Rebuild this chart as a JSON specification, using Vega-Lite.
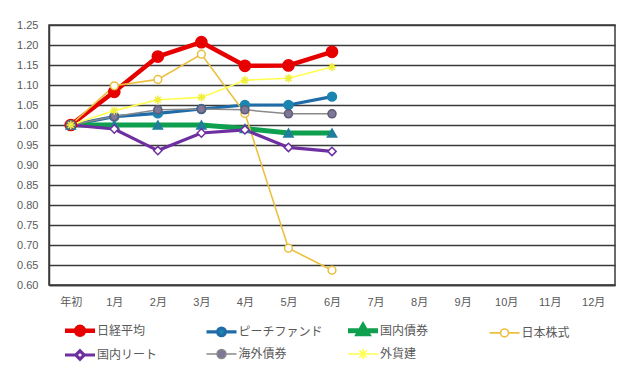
{
  "$schema": "https://vega.github.io/schema/vega-lite/v6.json",
  "width": 566,
  "height": 260,
  "autosize": {"type": "none"},
  "padding": {"left": 49, "top": 25, "right": 25, "bottom": 100},
  "background": "white",
  "config": {
    "view": {"stroke": "#3a3a3a", "strokeWidth": 1.5},
    "font": "Liberation Sans, Noto Sans CJK JP"
  },
  "data": {
    "values": [
      {"m": "年初", "s": "日経平均", "v": 1.0},
      {"m": "1月", "s": "日経平均", "v": 1.083},
      {"m": "2月", "s": "日経平均", "v": 1.171},
      {"m": "3月", "s": "日経平均", "v": 1.207},
      {"m": "4月", "s": "日経平均", "v": 1.148},
      {"m": "5月", "s": "日経平均", "v": 1.149},
      {"m": "6月", "s": "日経平均", "v": 1.183},
      {"m": "年初", "s": "ピーチファンド", "v": 1.0},
      {"m": "1月", "s": "ピーチファンド", "v": 1.021},
      {"m": "2月", "s": "ピーチファンド", "v": 1.029},
      {"m": "3月", "s": "ピーチファンド", "v": 1.04},
      {"m": "4月", "s": "ピーチファンド", "v": 1.05},
      {"m": "5月", "s": "ピーチファンド", "v": 1.05},
      {"m": "6月", "s": "ピーチファンド", "v": 1.071},
      {"m": "年初", "s": "国内債券", "v": 1.0},
      {"m": "1月", "s": "国内債券", "v": 1.0},
      {"m": "2月", "s": "国内債券", "v": 1.0},
      {"m": "3月", "s": "国内債券", "v": 1.0},
      {"m": "4月", "s": "国内債券", "v": 0.991},
      {"m": "5月", "s": "国内債券", "v": 0.98},
      {"m": "6月", "s": "国内債券", "v": 0.98},
      {"m": "年初", "s": "日本株式", "v": 1.0},
      {"m": "1月", "s": "日本株式", "v": 1.098},
      {"m": "2月", "s": "日本株式", "v": 1.114},
      {"m": "3月", "s": "日本株式", "v": 1.177},
      {"m": "4月", "s": "日本株式", "v": 1.029},
      {"m": "5月", "s": "日本株式", "v": 0.692},
      {"m": "6月", "s": "日本株式", "v": 0.637},
      {"m": "年初", "s": "国内リート", "v": 1.0},
      {"m": "1月", "s": "国内リート", "v": 0.99},
      {"m": "2月", "s": "国内リート", "v": 0.936},
      {"m": "3月", "s": "国内リート", "v": 0.98},
      {"m": "4月", "s": "国内リート", "v": 0.988},
      {"m": "5月", "s": "国内リート", "v": 0.944},
      {"m": "6月", "s": "国内リート", "v": 0.934},
      {"m": "年初", "s": "海外債券", "v": 1.0},
      {"m": "1月", "s": "海外債券", "v": 1.021},
      {"m": "2月", "s": "海外債券", "v": 1.038},
      {"m": "3月", "s": "海外債券", "v": 1.04},
      {"m": "4月", "s": "海外債券", "v": 1.038},
      {"m": "5月", "s": "海外債券", "v": 1.028},
      {"m": "6月", "s": "海外債券", "v": 1.028},
      {"m": "年初", "s": "外貨建", "v": 1.0},
      {"m": "1月", "s": "外貨建", "v": 1.036},
      {"m": "2月", "s": "外貨建", "v": 1.063},
      {"m": "3月", "s": "外貨建", "v": 1.069},
      {"m": "4月", "s": "外貨建", "v": 1.112},
      {"m": "5月", "s": "外貨建", "v": 1.117},
      {"m": "6月", "s": "外貨建", "v": 1.145}
    ]
  },
  "encoding": {
    "x": {
      "field": "m", "type": "ordinal",
      "scale": {"type": "point", "padding": 0.5, "domain": ["年初", "1月", "2月", "3月", "4月", "5月", "6月", "7月", "8月", "9月", "10月", "11月", "12月"]},
      "axis": {"title": null, "labelAngle": 0, "ticks": false, "tickSize": 0, "labelPadding": 11, "labelFontSize": 11, "labelColor": "#595959", "domainColor": "#3a3a3a", "domainWidth": 1.5, "grid": false}
    },
    "y": {
      "field": "v", "type": "quantitative",
      "scale": {"domain": [0.6, 1.25], "nice": false, "zero": false},
      "axis": {"title": null, "values": [0.6, 0.65, 0.7, 0.75, 0.8, 0.85, 0.9, 0.95, 1.0, 1.05, 1.1, 1.15, 1.2, 1.25], "format": ".2f", "ticks": false, "tickSize": 0, "labelPadding": 11, "labelFontSize": 11, "labelColor": "#595959", "grid": true, "gridColor": "#3a3a3a", "gridWidth": 1.5, "domainColor": "#3a3a3a", "domainWidth": 1.5}
    }
  },
  "layer": [
    {
      "mark": {"type": "line", "interpolate": "linear"},
      "encoding": {
        "color": {
          "field": "s", "type": "nominal",
          "scale": {"domain": ["日経平均", "ピーチファンド", "国内債券", "日本株式", "国内リート", "海外債券", "外貨建"], "range": ["#E60000", "#1F6CA8", "#0EA04E", "#EBC03F", "#6E2FA0", "#8A8A8A", "#FFFF4D"]},
          "legend": {
            "title": null,
            "orient": "none",
            "legendX": 19.5,
            "legendY": 294,
            "direction": "horizontal",
            "columns": 4,
            "padding": 0,
            "gridAlign": "all",
            "columnPadding": 14.5,
            "rowPadding": 0,
            "symbolSize": 324,
            "symbolOffset": 0,
            "labelOffset": 5.5,
            "labelFontSize": 12,
            "labelFont": "Noto Sans CJK JP",
            "labelColor": "#595959",
            "encode": {
              "symbols": {
                "update": {
                  "shape": {"signal": "datum.value==='日経平均' ? 'M-1.667,0H1.667M0.44,0A0.44,0.44 0 1,1 -0.44,0A0.44,0.44 0 1,1 0.44,0Z' : datum.value==='ピーチファンド' ? 'M-1.667,0H-0.43M0.43,0H1.667M0.43,0A0.43,0.43 0 1,1 -0.43,0A0.43,0.43 0 1,1 0.43,0Z' : datum.value==='国内債券' ? 'M-1.667,0H-0.5M0.5,0H1.667M0,-0.53L0.5,0.33L-0.5,0.33Z' : datum.value==='日本株式' ? 'M-1.667,0H-0.44M0.44,0H1.667M0.44,0A0.44,0.44 0 1,1 -0.44,0A0.44,0.44 0 1,1 0.44,0Z' : datum.value==='国内リート' ? 'M-1.667,0H-0.47M0.47,0H1.667M0,-0.47L0.47,0L0,0.47L-0.47,0Z' : datum.value==='海外債券' ? 'M-1.667,0H-0.5M0.5,0H1.667M0.5,0A0.5,0.5 0 1,1 -0.5,0A0.5,0.5 0 1,1 0.5,0Z' : 'M-1.667,0H1.667M-0.42,-0.42L0.42,0.42M-0.42,0.42L0.42,-0.42M0,-0.55V0.55'"},
                  "fill": {"signal": "datum.value==='日経平均' ? '#E60000' : datum.value==='ピーチファンド' ? '#1A86B0' : datum.value==='国内債券' ? '#1F7F9C' : datum.value==='日本株式' ? '#ffffff' : datum.value==='国内リート' ? '#ffffff' : datum.value==='海外債券' ? '#7E7896' : 'transparent'"},
                  "size": {"value": 324},
                  "opacity": {"value": 1},
                  "fillOpacity": {"value": 1},
                  "strokeOpacity": {"value": 1}
                }
              }
            }
          }
        },
        "strokeWidth": {
          "field": "s", "type": "nominal",
          "scale": {"type": "ordinal", "domain": ["日経平均", "ピーチファンド", "国内債券", "日本株式", "国内リート", "海外債券", "外貨建"], "range": [4.5, 3.2, 5, 1.6, 3.2, 1.5, 1.6]},
          "legend": null
        }
      }
    },
    {
      "mark": {"type": "point", "filled": true, "strokeWidth": 1.5, "opacity": 1},
      "encoding": {
        "shape": {
          "field": "s", "type": "nominal",
          "scale": {"domain": ["外貨建", "海外債券", "国内リート", "日本株式", "国内債券", "ピーチファンド", "日経平均"], "range": ["M-1,0H1M-0.7,-0.7L0.7,0.7M-0.7,0.7L0.7,-0.7M0,-1V1", "circle", "diamond", "circle", "triangle-up", "circle", "circle"]},
          "legend": null
        },
        "fill": {
          "field": "s", "type": "nominal",
          "scale": {"domain": ["外貨建", "海外債券", "国内リート", "日本株式", "国内債券", "ピーチファンド", "日経平均"], "range": ["#F5F542", "#7E7896", "#ffffff", "#ffffff", "#1F7F9C", "#1A86B0", "#E60000"]},
          "legend": null
        },
        "stroke": {
          "field": "s", "type": "nominal",
          "scale": {"domain": ["外貨建", "海外債券", "国内リート", "日本株式", "国内債券", "ピーチファンド", "日経平均"], "range": ["#F0EE3A", "#5E5A78", "#6E2FA0", "#E8BE3C", "#1F7F9C", "#1A86B0", "#E60000"]},
          "legend": null
        },
        "size": {
          "field": "s", "type": "nominal",
          "scale": {"type": "ordinal", "domain": ["外貨建", "海外債券", "国内リート", "日本株式", "国内債券", "ピーチファンド", "日経平均"], "range": [70, 65, 70, 60, 85, 80, 125]},
          "legend": null
        }
      }
    }
  ]
}
